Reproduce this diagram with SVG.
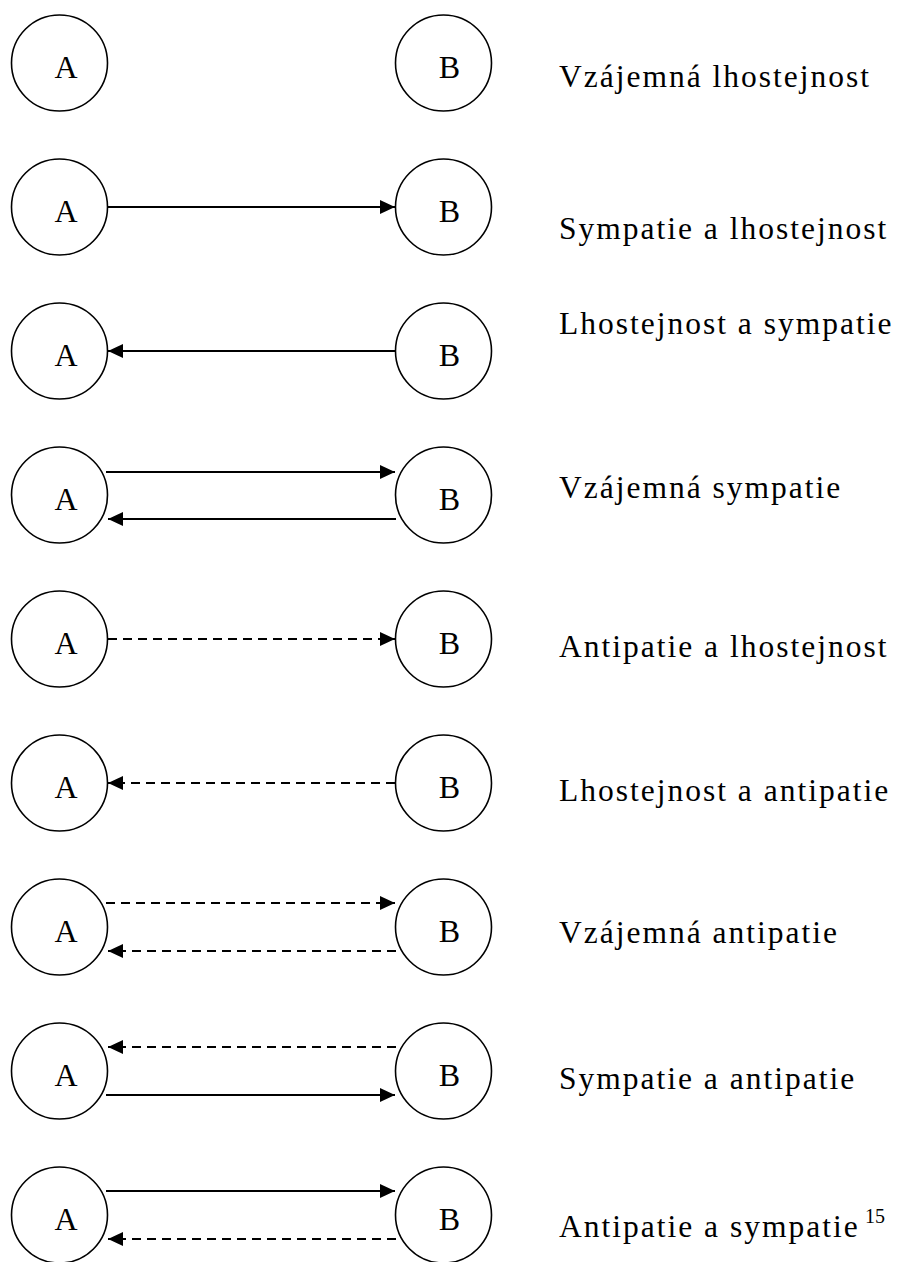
<svg xmlns="http://www.w3.org/2000/svg" width="897" height="1262" viewBox="0 0 897 1262">
<style>
.node circle{fill:#fff;stroke:#000;stroke-width:1.6}
.node text{font-family:"Liberation Serif","Times New Roman",serif;font-size:32px;text-anchor:middle;fill:#000}
.lbl{font-family:"Liberation Serif","Times New Roman",serif;font-size:31.5px;letter-spacing:2px;fill:#000}
.sup{font-size:20px;letter-spacing:0}
.c line{stroke:#000;stroke-width:2;fill:none}
.c .d{stroke-dasharray:9 6}
</style>
<defs>
<marker id="ah" markerUnits="userSpaceOnUse" markerWidth="16" markerHeight="14" viewBox="0 0 15 14" refX="15" refY="7" orient="auto">
<path d="M0,0 L15,7 L0,14 Z" fill="#000"/>
</marker>
</defs>
<g id="connectors" class="c">
<line x1="108" y1="207" x2="395" y2="207" marker-end="url(#ah)"/>
<line x1="395" y1="351" x2="108" y2="351" marker-end="url(#ah)"/>
<line x1="106" y1="472" x2="395" y2="472" marker-end="url(#ah)"/>
<line x1="396" y1="519" x2="108" y2="519" marker-end="url(#ah)"/>
<line class="d" x1="108" y1="639" x2="395" y2="639" marker-end="url(#ah)"/>
<line class="d" x1="395" y1="783" x2="108" y2="783" marker-end="url(#ah)"/>
<line class="d" x1="106" y1="903" x2="395" y2="903" marker-end="url(#ah)"/>
<line class="d" x1="396" y1="951" x2="108" y2="951" marker-end="url(#ah)"/>
<line class="d" x1="396" y1="1047" x2="108" y2="1047" marker-end="url(#ah)"/>
<line x1="106" y1="1095" x2="395" y2="1095" marker-end="url(#ah)"/>
<line x1="106" y1="1191" x2="395" y2="1191" marker-end="url(#ah)"/>
<line class="d" x1="396" y1="1239" x2="108" y2="1239" marker-end="url(#ah)"/>
</g>
<g id="r1A" class="node"><circle cx="59.5" cy="63" r="48"/><text x="66" y="78">A</text></g>
<g id="r1B" class="node"><circle cx="443.5" cy="63" r="48"/><text x="449.5" y="78">B</text></g>
<g id="r2A" class="node"><circle cx="59.5" cy="207" r="48"/><text x="66" y="222">A</text></g>
<g id="r2B" class="node"><circle cx="443.5" cy="207" r="48"/><text x="449.5" y="222">B</text></g>
<g id="r3A" class="node"><circle cx="59.5" cy="351" r="48"/><text x="66" y="366">A</text></g>
<g id="r3B" class="node"><circle cx="443.5" cy="351" r="48"/><text x="449.5" y="366">B</text></g>
<g id="r4A" class="node"><circle cx="59.5" cy="495" r="48"/><text x="66" y="510">A</text></g>
<g id="r4B" class="node"><circle cx="443.5" cy="495" r="48"/><text x="449.5" y="510">B</text></g>
<g id="r5A" class="node"><circle cx="59.5" cy="639" r="48"/><text x="66" y="654">A</text></g>
<g id="r5B" class="node"><circle cx="443.5" cy="639" r="48"/><text x="449.5" y="654">B</text></g>
<g id="r6A" class="node"><circle cx="59.5" cy="783" r="48"/><text x="66" y="798">A</text></g>
<g id="r6B" class="node"><circle cx="443.5" cy="783" r="48"/><text x="449.5" y="798">B</text></g>
<g id="r7A" class="node"><circle cx="59.5" cy="927" r="48"/><text x="66" y="942">A</text></g>
<g id="r7B" class="node"><circle cx="443.5" cy="927" r="48"/><text x="449.5" y="942">B</text></g>
<g id="r8A" class="node"><circle cx="59.5" cy="1071" r="48"/><text x="66" y="1086">A</text></g>
<g id="r8B" class="node"><circle cx="443.5" cy="1071" r="48"/><text x="449.5" y="1086">B</text></g>
<g id="r9A" class="node"><circle cx="59.5" cy="1215" r="48"/><text x="66" y="1230">A</text></g>
<g id="r9B" class="node"><circle cx="443.5" cy="1215" r="48"/><text x="449.5" y="1230">B</text></g>
<g id="labels">
<text class="lbl" x="559" y="87">Vzájemná lhostejnost</text>
<text class="lbl" x="559" y="239">Sympatie a lhostejnost</text>
<text class="lbl" x="559" y="334">Lhostejnost a sympatie</text>
<text class="lbl" x="559" y="498">Vzájemná sympatie</text>
<text class="lbl" x="559" y="657">Antipatie a lhostejnost</text>
<text class="lbl" x="559" y="801">Lhostejnost a antipatie</text>
<text class="lbl" x="559" y="943">Vzájemná antipatie</text>
<text class="lbl" x="559" y="1089">Sympatie a antipatie</text>
<text class="lbl" x="559" y="1237">Antipatie a sympatie<tspan class="sup" x="865" y="1223">15</tspan></text>
</g>
</svg>
